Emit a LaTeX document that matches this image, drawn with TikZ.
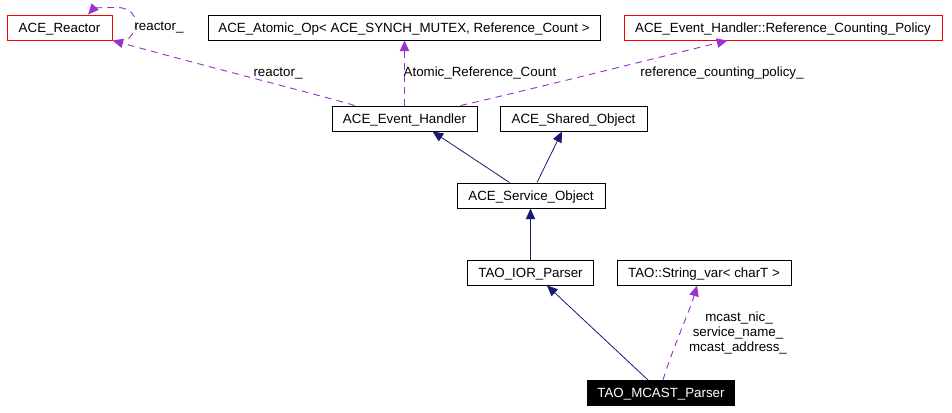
\documentclass[tikz,border=0pt]{standalone}
\usepackage{fontspec}
\setmainfont{Liberation Sans}
\usetikzlibrary{arrows.meta,calc}
\definecolor{edgepurple}{HTML}{9A32CD}
\definecolor{edgenavy}{HTML}{191970}
\begin{document}
\begin{tikzpicture}[x=0.75pt,y=-0.75pt,
  font=\fontsize{10pt}{12pt}\selectfont,
  box/.style={draw=black, line width=0.75pt, inner sep=0pt, minimum height=18.75pt, text height=8.4pt, text depth=1pt, anchor=center},
  redbox/.style={box, draw=red},
  blackbox/.style={box, fill=black, text=white},
  lbl/.style={inner sep=0pt, text height=7.2pt, text depth=2.2pt, anchor=center},
  pedge/.style={draw=edgepurple, line width=0.7pt, dash pattern=on 5pt off 4pt, -{Triangle[length=8pt,width=7pt]}},
  nedge/.style={draw=edgenavy, line width=0.6pt, -{Triangle[length=8pt,width=7pt]}}]
\useasboundingbox (0,0) rectangle (952,412);

\node[redbox, minimum width=78.75pt] (reactor) at (59.5,27.5) {ACE\_Reactor};
\node[box, minimum width=294pt] (atomic) at (404,27.5) {ACE\_Atomic\_Op< ACE\_SYNCH\_MUTEX, Reference\_Count >};
\node[redbox, minimum width=238.5pt] (rcp) at (783,27.5) {ACE\_Event\_Handler::Reference\_Counting\_Policy};
\node[box, minimum width=108.75pt] (eh) at (404.5,118.5) {ACE\_Event\_Handler};
\node[box, minimum width=110.25pt] (so) at (573.5,118.5) {ACE\_Shared\_Object};
\node[box, minimum width=111pt] (svc) at (531,195.5) {ACE\_Service\_Object};
\node[box, minimum width=94.5pt] (ior) at (530.5,272.5) {TAO\_IOR\_Parser};
\node[box, minimum width=130.5pt] (sv) at (704,272.5) {TAO::String\_var< charT >};
\node[blackbox, minimum width=110.25pt] (mcast) at (661,393) {TAO\_MCAST\_Parser};

% self loop
\draw[pedge] ($(reactor.south east)+(16,-2)$) .. controls ($(reactor.east)+(30,-2)$) and ($(reactor.north east)+(24,-9)$) .. ($(reactor.north east)+(0,-7)$) .. controls ($(reactor.north east)+(-14,-7)$) and ($(reactor.north)+(34,-6)$) .. ($(reactor.north)+(28.5,0)$);
\node[lbl] (lself) at (159,27) {reactor\_};

% reactor_
\draw[pedge] ($(eh.north west)+(23,0)$) .. controls ($(eh.north west)+(5,-6)$) and (220,70) .. (reactor.south east);
\node[lbl] (lreact) at (278,73) {reactor\_};

% Atomic
\draw[pedge] (eh.north) -- (eh.north |- atomic.south);
\node[lbl] (latomic) at (480,73) {Atomic\_Reference\_Count};

% rcp
\draw[pedge] ($(eh.north east)+(-17,0)$) .. controls (520,92) and (640,62) .. ($(rcp.south west)+(104,0)$);
\node[lbl] (lrcp) at (722,73) {reference\_counting\_policy\_};

% inheritance
\draw[nedge] ($(svc.north west)+(53,0)$) -- ($(eh.south east)+(-45,0)$);
\draw[nedge] ($(svc.north)+(6,0)$) -- ($(so.south)+(-11.5,0)$);
\draw[nedge] (ior.north) -- (ior.north |- svc.south);
\draw[nedge] ($(mcast.north)+(-13,0)$) -- ($(ior.south)+(16.5,0)$);

% string_var
\draw[pedge] ($(mcast.north)+(2,0)$) .. controls (672,350) and (690,310) .. ($(sv.south)+(-7,0)$);
\node[lbl] (lm1) at (739,318) {mcast\_nic\_};
\node[lbl] (lm2) at (738,333) {service\_name\_};
\node[lbl] (lm3) at (738,348) {mcast\_address\_};
\end{tikzpicture}
\end{document}
